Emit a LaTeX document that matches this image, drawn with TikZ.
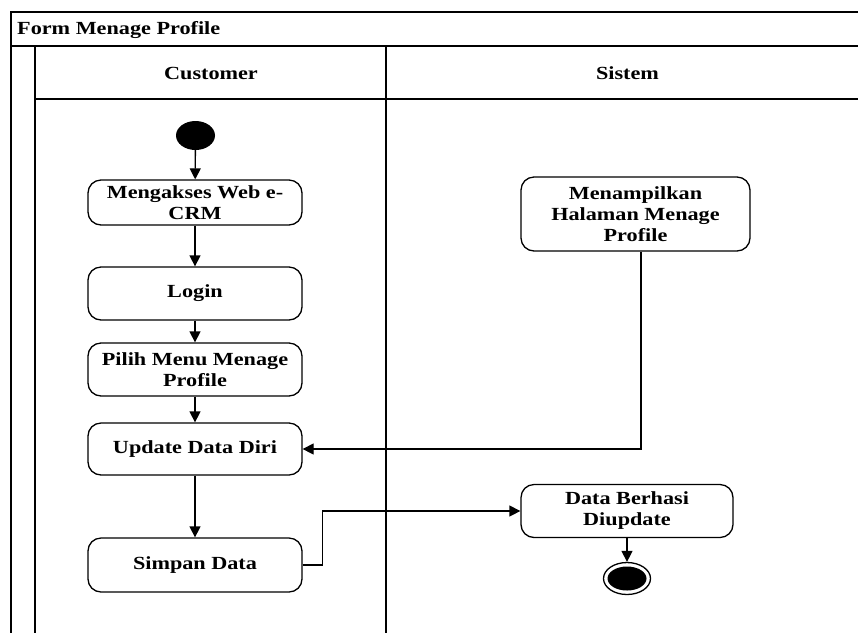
\documentclass[tikz,border=0pt]{standalone}
\usepackage{fontspec}
\setmainfont{Liberation Serif}[FakeStretch=1.2]
\usetikzlibrary{shapes.geometric,arrows.meta,calc}
\begin{document}
\begin{tikzpicture}[x=1pt,y=-1pt,
  txt/.style={font=\fontsize{18.5}{21}\selectfont\bfseries},
  act/.style={txt,draw,line width=1.3pt,rounded corners=13pt,align=center,inner sep=2pt},
  frameline/.style={line width=1.3pt},
  flow/.style={line width=1.3pt,-{Triangle[length=11pt,width=11pt]}},
  startnode/.style={ellipse,fill=black,minimum width=39pt,minimum height=29pt,inner sep=0pt},
  endouter/.style={ellipse,draw,line width=1.3pt,fill=white,minimum width=47pt,minimum height=32pt,inner sep=0pt},
  endinner/.style={ellipse,fill=black,minimum width=39pt,minimum height=24pt,inner sep=0pt}
]
\useasboundingbox (0,0) rectangle (858,633);
% swimlane frame
\draw[frameline] (858,12) -- (11,12) -- (11,633);
\draw[frameline] (11,46) -- (858,46);
\draw[frameline] (35,46) -- (35,633);
\draw[frameline] (35,99) -- (858,99);
\draw[frameline] (386,46) -- (386,633);
\node[txt,anchor=base west,inner sep=0pt] (title) at (17,34) {Form Menage Profile};
\node[txt,anchor=base,inner sep=0pt] (hcust) at (211,79) {Customer};
\node[txt,anchor=base,inner sep=0pt] (hsis) at (627.5,79) {Sistem};
% activities
\node[startnode] (start) at (195.5,135.5) {};
\node[act,minimum width=214pt,minimum height=45pt] (akses) at (195,202.5) {Mengakses Web e-\\CRM};
\node[act,minimum width=214pt,minimum height=53pt] (login) at (195,293.5) {Login};
\node[act,minimum width=214pt,minimum height=53pt] (pilih) at (195,369.5) {Pilih Menu Menage\\Profile};
\node[act,minimum width=214pt,minimum height=52pt] (update) at (195,449) {Update Data Diri};
\node[act,minimum width=214pt,minimum height=54pt] (simpan) at (195,565) {Simpan Data};
\node[act,minimum width=229pt,minimum height=74pt] (tampil) at (635.5,214) {Menampilkan\\Halaman Menage\\Profile};
\node[act,minimum width=212pt,minimum height=53pt] (berhasi) at (627,511) {Data Berhasi\\Diupdate};
\node[endouter] (end) at (627,578.5) {};
\node[endinner] (endin) at (627,578.5) {};
% flows
\draw[flow] (start) -- (akses);
\draw[flow] (akses) -- (login);
\draw[flow] (login) -- (pilih);
\draw[flow] (pilih) -- (update);
\draw[flow] (update) -- (simpan);
\draw[flow] ($(tampil.south)+(5.5,0)$) |- (update.east);
\draw[flow] (simpan.east) -- ++(20,0) |- (berhasi.west);
\draw[flow] (berhasi) -- (end);
\end{tikzpicture}
\end{document}
